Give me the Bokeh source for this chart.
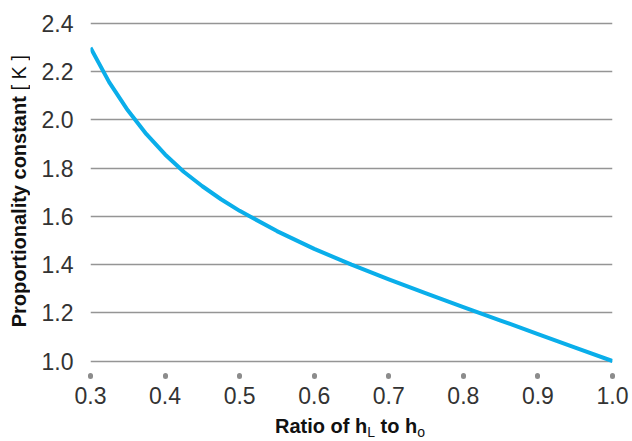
from bokeh.plotting import figure
from bokeh.models import FixedTicker, PrintfTickFormatter, Range1d, Div
from bokeh.layouts import row, column
from bokeh.embed import file_html
from bokeh.resources import INLINE

# Data
ratio = [0.30, 0.325, 0.35, 0.375, 0.40, 0.425, 0.45, 0.475, 0.50, 0.55, 0.60,
         0.65, 0.70, 0.75, 0.80, 0.85, 0.90, 0.95, 1.00]
k_const = [2.30, 2.157, 2.040, 1.941, 1.857, 1.785, 1.725, 1.671, 1.623, 1.539, 1.465,
           1.40, 1.339, 1.281, 1.224, 1.168, 1.112, 1.056, 1.00]

x_ticks = [0.3, 0.4, 0.5, 0.6, 0.7, 0.8, 0.9, 1.0]
y_ticks = [1.0, 1.2, 1.4, 1.6, 1.8, 2.0, 2.2, 2.4]

x_title_html = "Ratio of h<sub>L</sub> to h<sub>o</sub>"
y_title_bold = "Proportionality constant"
y_title_unit = "[ K ]"

FONT = "Liberation Sans"

p = figure(width=594, height=413, output_backend="svg", toolbar_location=None,
           x_range=Range1d(0.3, 1.0), y_range=Range1d(0.9399, 2.4084),
           min_border_left=49, min_border_right=20, min_border_top=21, min_border_bottom=38,
           margin=0)
p.outline_line_color = None
p.background_fill_color = "white"
p.border_fill_color = "white"

p.line(ratio, k_const, line_width=4, line_color="#0aaeea", line_join="round")

# grid
p.xgrid.grid_line_color = None
p.ygrid.ticker = FixedTicker(ticks=y_ticks)
p.ygrid.grid_line_color = "#959595"
p.ygrid.grid_line_width = 1.6

# x axis
xa = p.xaxis[0]
xa.ticker = FixedTicker(ticks=x_ticks)
xa.formatter = PrintfTickFormatter(format="%.1f")
xa.axis_line_color = None
xa.major_tick_line_color = "#8c8c8c"
xa.major_tick_line_width = 5
xa.major_tick_line_cap = "round"
xa.major_tick_in = 0
xa.major_tick_out = 1
xa.minor_tick_line_color = None
xa.major_label_standoff = 10
xa.major_label_text_font = FONT
xa.major_label_text_font_size = "23px"
xa.major_label_text_color = "#333333"

# y axis
ya = p.yaxis[0]
ya.ticker = FixedTicker(ticks=y_ticks)
ya.formatter = PrintfTickFormatter(format="%.1f")
ya.axis_line_color = None
ya.major_tick_line_color = None
ya.minor_tick_line_color = None
ya.major_label_standoff = 11
ya.major_label_text_font = FONT
ya.major_label_text_font_size = "23px"
ya.major_label_text_color = "#333333"

# y axis title (rotated HTML text, bold + regular)
ydiv = Div(width=38, height=441, margin=0, text=(
    '<div style="width:38px;height:441px;box-sizing:border-box;padding-bottom:58px;'
    'display:flex;align-items:center;justify-content:center;">'
    '<span style="writing-mode:vertical-rl;transform:rotate(180deg);white-space:nowrap;'
    f"font-family:'{FONT}';font-size:20px;line-height:20px;color:#111111;\">"
    f'<b>{y_title_bold}</b> {y_title_unit}</span></div>'))

# x axis title with subscripts
xdiv = Div(width=594, height=28, margin=0, text=(
    '<div style="width:594px;height:28px;box-sizing:border-box;padding-left:30px;padding-top:3px;'
    f"text-align:center;white-space:nowrap;font-family:'{FONT}';font-size:20px;line-height:20px;"
    'font-weight:bold;color:#111111;">'
    + x_title_html.replace(
        "<sub>",
        '<sub style="font-weight:normal;font-size:14px;line-height:0;vertical-align:-4px;">')
    + '</div>'))

layout = row(ydiv, column(p, xdiv, spacing=0, margin=0), spacing=0, margin=0)

open("out.html", "w").write(file_html(layout, INLINE))
